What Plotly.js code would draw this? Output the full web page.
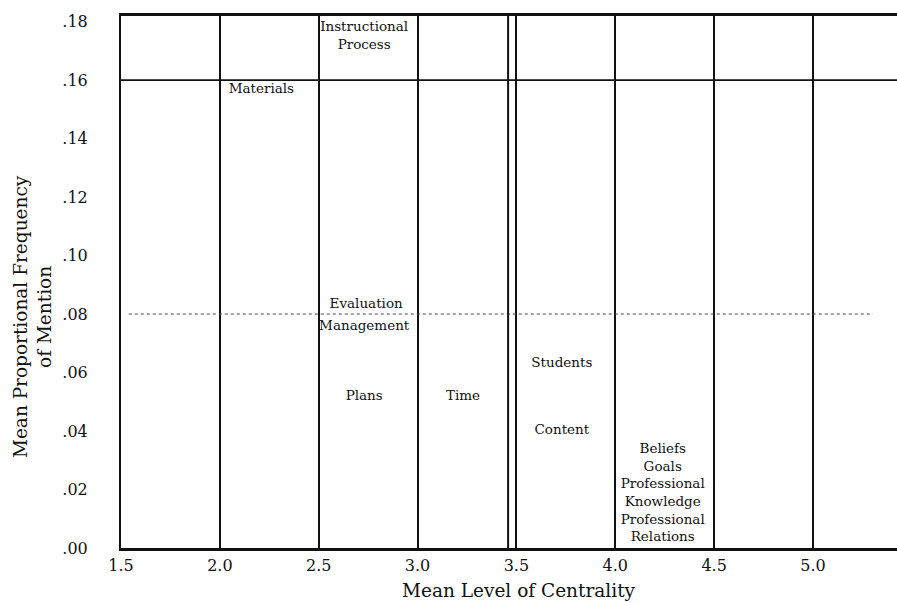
<!DOCTYPE html>
<html>
<head>
<meta charset="utf-8">
<script src="https://cdn.plot.ly/plotly-3.0.1.min.js"></script>
<style>html,body{margin:0;padding:0;background:#fff;}#chart{width:897px;height:603px;}</style>
</head>
<body>
<div id="chart"></div>
<script>
// Domain labels placed at (mean level of centrality, mean proportional frequency of mention)
const domainLabels = ['Instructional<br>Process', 'Materials', 'Evaluation', 'Management', 'Plans', 'Time',
  'Students', 'Content', 'Beliefs', 'Goals', 'Professional<br>Knowledge', 'Professional<br>Relations'];
const centrality = [2.73, 2.21, 2.74, 2.73, 2.73, 3.23, 3.73, 3.73, 4.24, 4.24, 4.24, 4.24];
const frequency = [0.1749, 0.1566, 0.0831, 0.0756, 0.0516, 0.0516, 0.0629, 0.0400, 0.0335, 0.0274, 0.0185, 0.0065];

const xTickVals = [1.5, 2.0, 2.5, 3.0, 3.5, 4.0, 4.5, 5.0];
const xTickText = ['1.5', '2.0', '2.5', '3.0', '3.5', '4.0', '4.5', '5.0'];
const yTickVals = [0, 0.02, 0.04, 0.06, 0.08, 0.10, 0.12, 0.14, 0.16, 0.18];
const yTickText = ['.00', '.02', '.04', '.06', '.08', '.10', '.12', '.14', '.16', '.18'];

const serif = 'DejaVu Serif, Liberation Serif, serif';

const trace = {
  type: 'scatter',
  mode: 'text',
  x: centrality,
  y: frequency,
  text: domainLabels,
  textposition: 'middle center',
  textfont: {family: serif, size: 13.5, color: '#111'},
  hoverinfo: 'text',
  showlegend: false
};

const layout = {
  width: 897, height: 603,
  margin: {l: 121, r: 0, t: 16, b: 55},
  paper_bgcolor: '#fff', plot_bgcolor: '#fff',
  showlegend: false,
  xaxis: {
    range: [1.5, 5.425],
    tickvals: xTickVals, ticktext: xTickText,
    tickfont: {family: serif, size: 16, color: '#111'},
    showgrid: true, gridcolor: '#111', gridwidth: 2,
    zeroline: false,
    showline: true, linecolor: '#111', linewidth: 3,
    mirror: true,
    ticks: '', ticklabelstandoff: 1
  },
  yaxis: {
    range: [0, 0.1819],
    tickvals: yTickVals, ticktext: yTickText,
    tickfont: {family: serif, size: 16, color: '#111'},
    showgrid: false, zeroline: false,
    showline: true, linecolor: '#111', linewidth: 2,
    ticks: '', ticklabelstandoff: 28
  },
  shapes: [
    {type: 'line', xref: 'paper', yref: 'y', x0: 0, x1: 1, y0: 0.16, y1: 0.16,
     line: {color: '#111', width: 1.8}},
    {type: 'line', xref: 'paper', yref: 'y', x0: 0.01, x1: 0.969, y0: 0.08, y1: 0.08,
     line: {color: '#444', width: 1, dash: 'dot'}},
    {type: 'line', xref: 'x', yref: 'paper', x0: 3.458, x1: 3.458, y0: 0, y1: 1,
     line: {color: '#111', width: 2}}
  ],
  annotations: [
    {text: 'Mean Level of Centrality', xref: 'paper', yref: 'paper', x: 0.513, y: -0.079,
     xanchor: 'center', yanchor: 'middle', showarrow: false,
     font: {family: serif, size: 18.5, color: '#111'}},
    {text: 'Mean Proportional Frequency<br>of Mention', xref: 'paper', yref: 'paper',
     x: -0.1147, y: 0.436, xanchor: 'center', yanchor: 'middle', textangle: -90, showarrow: false,
     font: {family: serif, size: 18.5, color: '#111'}}
  ]
};

Plotly.newPlot('chart', [trace], layout, {displayModeBar: false, staticPlot: true});
</script>
</body>
</html>
